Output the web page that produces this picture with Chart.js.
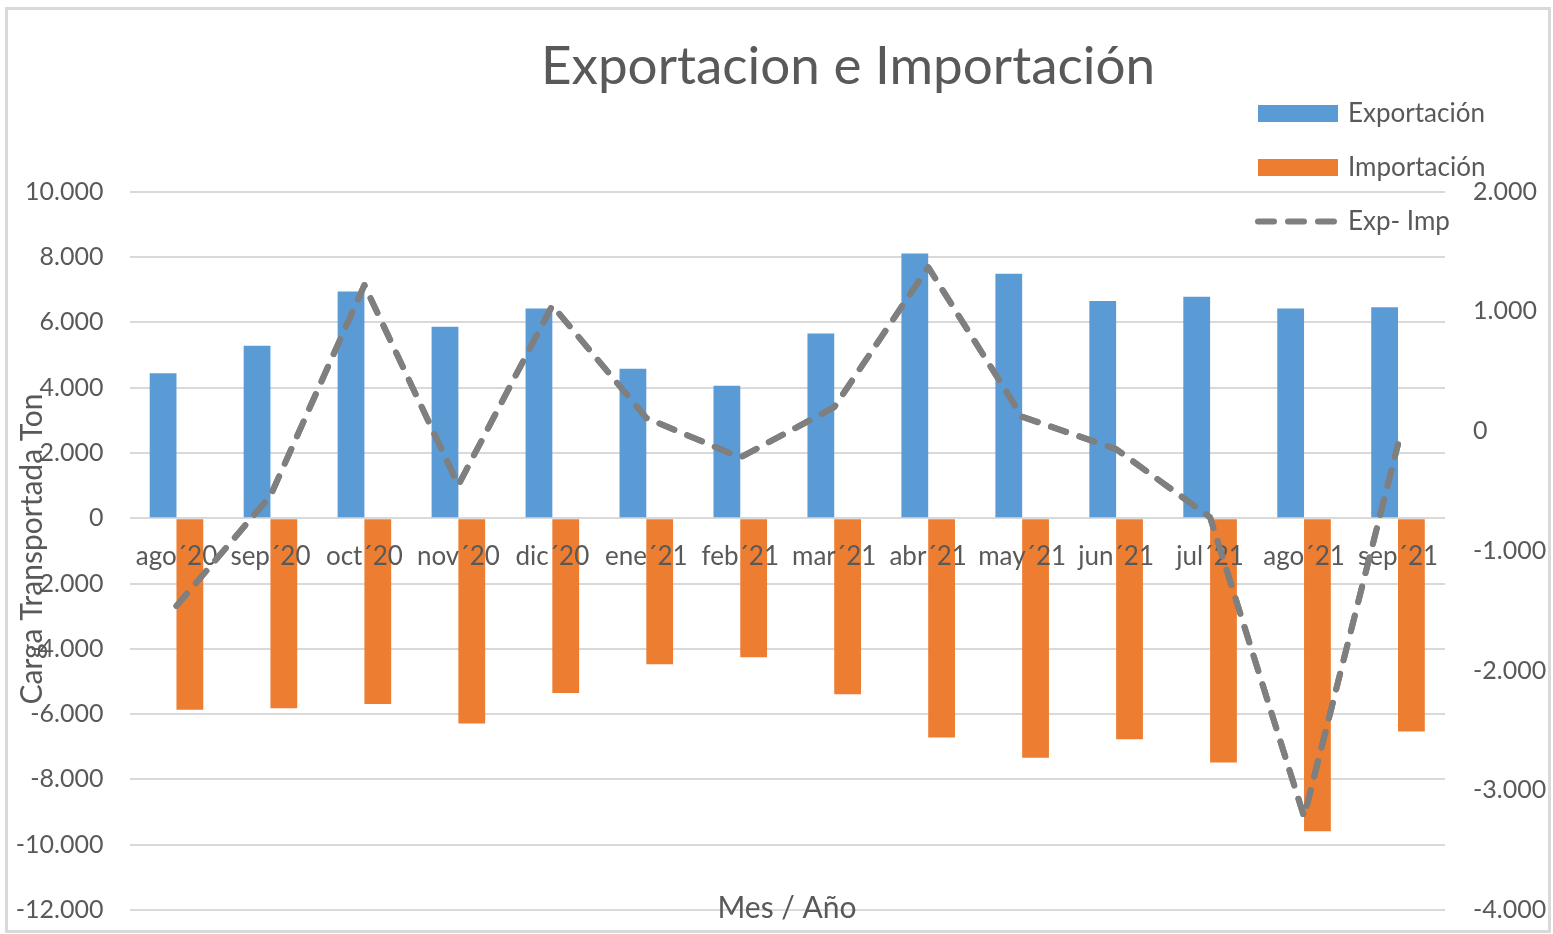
<!DOCTYPE html>
<html>
<head>
<meta charset="utf-8">
<title>Exportacion e Importación</title>
<script src="https://cdn.jsdelivr.net/npm/chart.js@4.4.1/dist/chart.umd.min.js"></script>
<style>
  html, body { margin: 0; padding: 0; background: #fff; }
  #wrap { position: relative; width: 1553px; height: 934px; }
</style>
</head>
<body>
<div id="wrap"><canvas id="chart"></canvas></div>
<script>
// ---------- Data ----------
const months = ['ago´20', 'sep´20', 'oct´20', 'nov´20', 'dic´20', 'ene´21', 'feb´21',
                'mar´21', 'abr´21', 'may´21', 'jun´21', 'jul´21', 'ago´21', 'sep´21'];
const exportacion = [4440, 5280, 6940, 5860, 6420, 4580, 4060, 5660, 8110, 7490, 6650, 6780, 6420, 6460];
const importacion = [-5870, -5820, -5690, -6290, -5350, -4470, -4260, -5390, -6720, -7340, -6770, -7480, -9590, -6530];
const expImp = [-1460, -540, 1220, -450, 1050, 110, -220, 200, 1370, 120, -150, -720, -3220, -110];

const leftTicks = { min: -12000, max: 10000, step: 2000 };
const rightTicks = { min: -4000, max: 2000, step: 1000 };

const TEXT = '#595959';
Chart.defaults.font.family = 'Lato';
Chart.defaults.color = TEXT;

// 10000 -> "10.000"
function fmt(v) {
    const s = Math.abs(v).toString().replace(/\B(?=(\d{3})+(?!\d))/g, '.');
    return (v < 0 ? '-' : '') + s;
}

// fixed axis width, and no extra vertical padding from the tick labels
function fixWidth(w) {
    return s => {
        s.width = w;
        s.paddingTop = 0;
        s.paddingBottom = 0;
    };
}

// ---------- Plugins ----------
const frame = {
    id: 'frame',
    beforeDraw(chart) {
        const c = chart.ctx;
        c.save();
        c.fillStyle = '#fff';
        c.fillRect(0, 0, chart.width, chart.height);
        c.strokeStyle = '#d9d9d9';
        c.lineWidth = 3;
        c.strokeRect(6.5, 8.5, 1543, 923);
        c.restore();
    }
};

const extras = {
    id: 'extras',
    afterDraw(chart) {
        const c = chart.ctx;

        // month labels sit above the bars, the dashed line goes over both
        chart.getDatasetMeta(0).controller.draw();

        c.save();
        c.fillStyle = TEXT;
        c.textBaseline = 'middle';
        c.textAlign = 'center';

        // title
        c.font = '53px Lato';
        c.fillText('Exportacion e Importación', 848, 67);

        // axis titles
        c.font = '30px Lato';
        c.fillText('Mes / Año', 787, 908);
        c.save();
        c.translate(32, 549);
        c.rotate(-Math.PI / 2);
        c.fillText('Carga Transportada Ton', 0, 0);
        c.restore();

        // legend, top right
        const rows = [
            chart.data.datasets[1],
            chart.data.datasets[2],
            chart.data.datasets[0]
        ];
        const rowY = [113.5, 167.5, 221.5];
        c.font = '26px Lato';
        c.textAlign = 'left';
        rows.forEach((ds, i) => {
            const y = rowY[i];
            if (ds.type === 'line') {
                c.save();
                c.strokeStyle = ds.borderColor;
                c.lineWidth = ds.borderWidth;
                c.lineCap = 'round';
                c.setLineDash(ds.borderDash);
                c.beginPath();
                c.moveTo(1258, y);
                c.lineTo(1336, y);
                c.stroke();
                c.restore();
            } else {
                c.fillStyle = ds.backgroundColor;
                c.fillRect(1258, y - 8.5, 80, 17);
            }
            c.fillStyle = TEXT;
            c.fillText(ds.label, 1348, y);
        });
        c.restore();
    }
};

// ---------- Chart ----------
const ctx = document.getElementById('chart').getContext('2d');
const chart = new Chart(ctx, {
    type: 'bar',
    data: {
        labels: months,
        datasets: [
            {
                type: 'line',
                label: 'Exp- Imp',
                data: expImp,
                yAxisID: 'y1',
                borderColor: '#7f7f7f',
                borderWidth: 6,
                borderDash: [16, 14],
                borderCapStyle: 'round',
                borderJoinStyle: 'round',
                pointRadius: 0,
                tension: 0,
                fill: false,
                order: 0
            },
            {
                label: 'Exportación',
                data: exportacion,
                backgroundColor: '#5b9bd5',
                yAxisID: 'y',
                order: 1
            },
            {
                label: 'Importación',
                data: importacion,
                backgroundColor: '#ed7d31',
                yAxisID: 'y',
                order: 1
            }
        ]
    },
    options: {
        responsive: true,
        maintainAspectRatio: false,
        animation: false,
        categoryPercentage: 0.57,
        barPercentage: 1,
        layout: { padding: { top: 191.7, right: 0, bottom: 24, left: 0 } },
        plugins: {
            legend: { display: false },
            tooltip: { enabled: false },
            title: { display: false }
        },
        scales: {
            x: {
                position: { y: 0 },
                grid: { display: false },
                border: { display: false },
                ticks: {
                    z: 1,
                    color: TEXT,
                    font: { size: 26 },
                    padding: 15,
                    maxRotation: 0,
                    autoSkip: false
                }
            },
            y: {
                position: 'left',
                min: leftTicks.min,
                max: leftTicks.max,
                ticks: {
                    stepSize: leftTicks.step,
                    callback: v => fmt(v),
                    padding: 26,
                    color: TEXT,
                    font: { size: 25 }
                },
                grid: { color: '#d9d9d9', lineWidth: 2, drawTicks: false },
                border: { display: false },
                afterFit: fixWidth(129.5)
            },
            y1: {
                position: 'right',
                min: rightTicks.min,
                max: rightTicks.max,
                ticks: {
                    stepSize: rightTicks.step,
                    callback: v => fmt(v),
                    padding: 28,
                    color: TEXT,
                    font: { size: 25 }
                },
                grid: { drawOnChartArea: false, drawTicks: false },
                border: { display: false },
                afterFit: fixWidth(108)
            }
        }
    },
    plugins: [frame, extras]
});
</script>
</body>
</html>
